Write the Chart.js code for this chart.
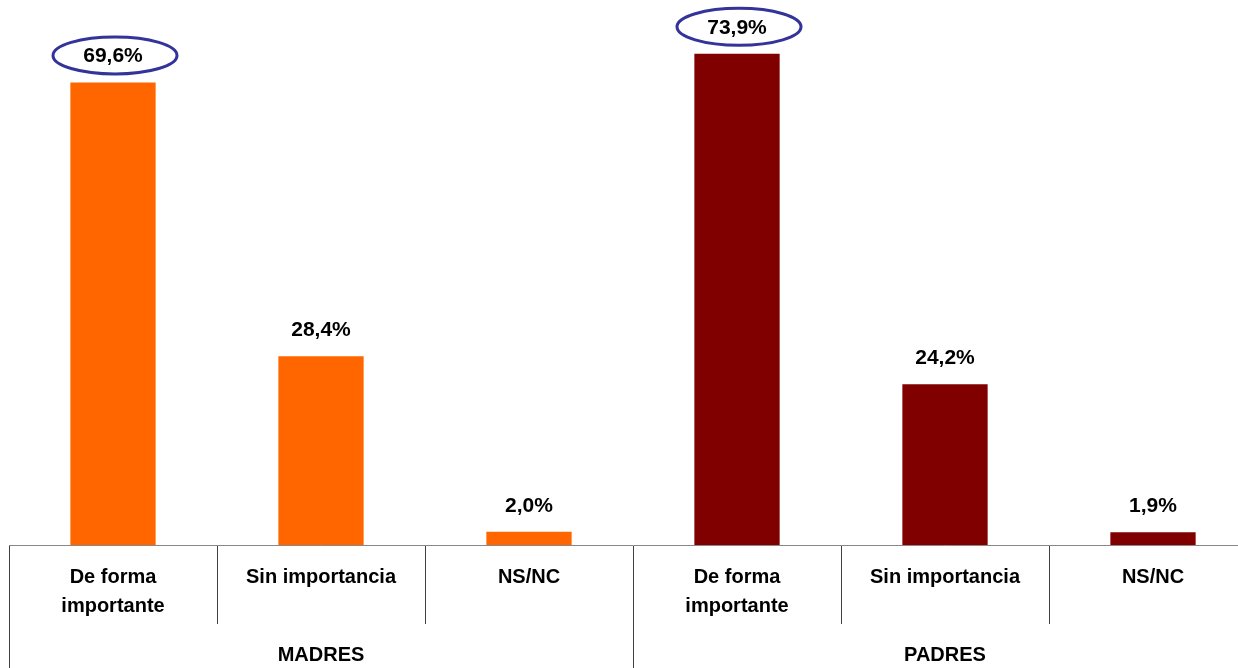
<!DOCTYPE html>
<html>
<head>
<meta charset="utf-8">
<script src="https://cdn.jsdelivr.net/npm/chart.js@4/dist/chart.umd.min.js"></script>
<style>
  html, body { margin: 0; padding: 0; background: #fff; overflow: hidden; }
</style>
</head>
<body>
<canvas id="chart" width="1266" height="668"></canvas>
<script>
'use strict';
const categories = [['De forma', 'importante'], 'Sin importancia', 'NS/NC', ['De forma', 'importante'], 'Sin importancia', 'NS/NC'];
const groups = ['MADRES', 'PADRES'];
const madresValues = [69.6, 28.4, 2.0];
const padresValues = [73.9, 24.2, 1.9];
const highlighted = [0, 3];

const values = madresValues.concat(padresValues);
const barColors = madresValues.map(() => '#FF6600').concat(padresValues.map(() => '#800000'));
const font = { family: '"Liberation Sans", Arial, sans-serif', size: 20, weight: 'bold' };

function formatValue(v) {
  return v.toFixed(1).replace('.', ',') + '%';
}

// value labels above the bars, with ellipses round the highlighted ones
const labelPlugin = {
  id: 'barLabels',
  afterDatasetsDraw(chart) {
    const ctx = chart.ctx;
    const meta = chart.getDatasetMeta(0);
    ctx.save();
    ctx.font = 'bold 21px "Liberation Sans", Arial, sans-serif';
    ctx.textAlign = 'center';
    ctx.textBaseline = 'middle';
    meta.data.forEach((bar, i) => {
      const y = bar.y - 26;
      ctx.fillStyle = '#000';
      ctx.fillText(formatValue(values[i]), bar.x, y);
      if (highlighted.includes(i)) {
        ctx.beginPath();
        ctx.ellipse(bar.x + 2, y - 1, 62, 18.5, 0, 0, Math.PI * 2);
        ctx.strokeStyle = '#333399';
        ctx.lineWidth = 3;
        ctx.stroke();
      }
    });
    ctx.restore();
  }
};

new Chart(document.getElementById('chart'), {
  type: 'bar',
  data: {
    labels: categories,
    datasets: [{
      data: values,
      backgroundColor: barColors,
      borderWidth: 0,
      categoryPercentage: 1,
      barPercentage: 0.41
    }]
  },
  options: {
    responsive: false,
    animation: false,
    layout: { padding: { left: 9, right: 9, top: 0, bottom: 0 } },
    plugins: { legend: { display: false }, tooltip: { enabled: false } },
    scales: {
      y: { display: false, min: 0, max: 82 },
      x: {
        weight: 0,
        grid: { offset: true, drawOnChartArea: false, tickLength: 79, color: '#404040', lineWidth: 1 },
        border: { display: true, color: '#888888', width: 1, z: 1 },
        ticks: { color: '#000', font: Object.assign({ lineHeight: 1.45 }, font), padding: -61, maxRotation: 0, autoSkip: false },
        afterFit(scale) { scale.height = 79; }
      },
      x2: {
        type: 'category',
        labels: groups,
        position: 'bottom',
        weight: 1,
        grid: { offset: true, drawOnChartArea: false, tickLength: 45, color: '#404040', lineWidth: 1 },
        border: { display: false },
        ticks: { color: '#000', font: Object.assign({ lineHeight: 1.2 }, font), padding: -26, maxRotation: 0 },
        afterFit(scale) { scale.height = 44; }
      }
    }
  },
  plugins: [labelPlugin]
});
</script>
</body>
</html>
